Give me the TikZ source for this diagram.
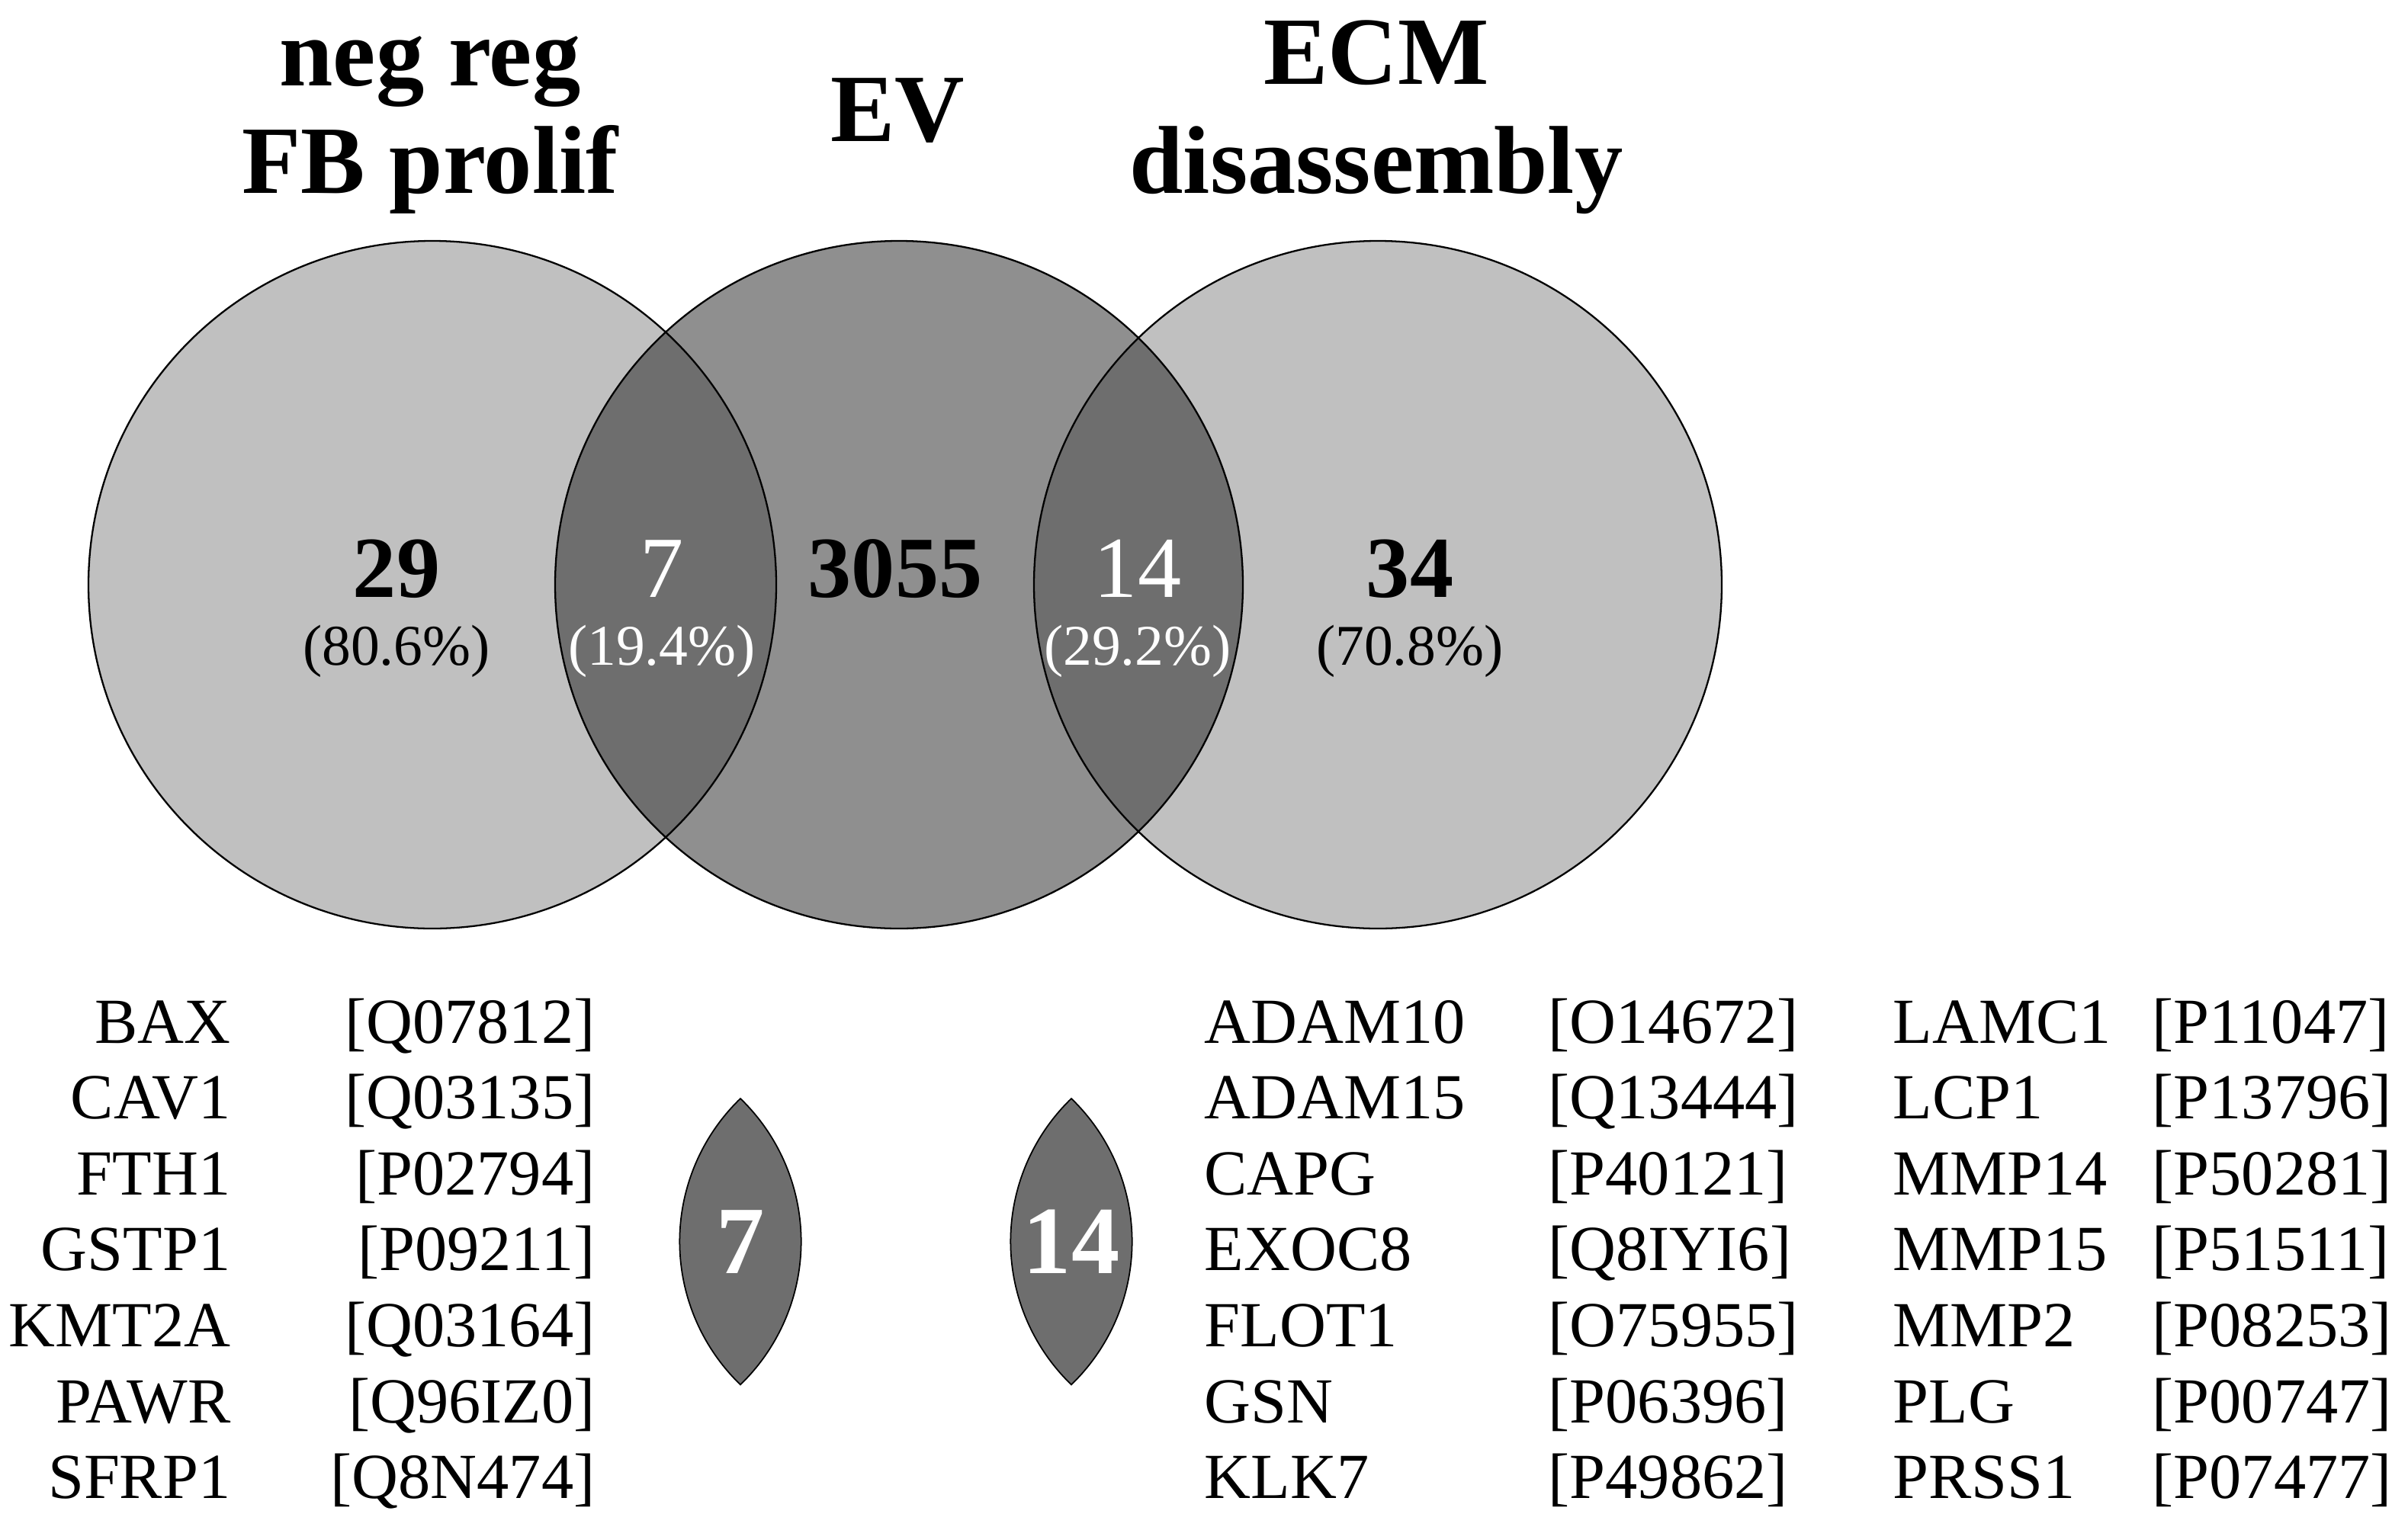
\documentclass[tikz,border=0pt]{standalone}
\usepackage{fontspec}
\setmainfont{Liberation Serif}
\definecolor{setgray}{gray}{0.753}
\definecolor{evgray}{gray}{0.561}
\definecolor{lapgray}{gray}{0.431}
\tikzset{
  settitle/.style={font=\fontsize{36}{40}\selectfont\bfseries, anchor=base, inner sep=0pt},
  setcount/.style={font=\fontsize{32.5}{36}\selectfont, anchor=base, inner sep=0pt},
  setpct/.style={font=\fontsize{21.5}{24}\selectfont, anchor=base, inner sep=0pt},
  genetxt/.style={font=\fontsize{24}{28}\selectfont, inner sep=0pt},
  lensnum/.style={font=\fontsize{36}{40}\selectfont\bfseries, text=white, inner sep=0pt},
  ring/.style={draw=black, line width=0.65pt},
  lens/.style={fill=lapgray, draw=black, line width=0.5pt}
}
\begin{document}
\begin{tikzpicture}
\useasboundingbox (0,0) rectangle (31.58,-20.06);

\coordinate (cFB) at (5.67,-7.67);
\coordinate (cEV) at (11.79,-7.67);
\coordinate (cECM) at (18.07,-7.67);

% circles
\fill[setgray] (cFB) circle (4.51);
\fill[setgray] (cECM) circle (4.51);
\fill[evgray] (cEV) circle (4.51);
\begin{scope}
\clip (cFB) circle (4.51);
\fill[lapgray] (cEV) circle (4.51);
\end{scope}
\begin{scope}
\clip (cECM) circle (4.51);
\fill[lapgray] (cEV) circle (4.51);
\end{scope}
\draw[ring] (cFB) circle (4.51);
\draw[ring] (cEV) circle (4.51);
\draw[ring] (cECM) circle (4.51);

% titles
\node[settitle] (tFBa) at (5.64,-1.12) {neg reg};
\node[settitle] (tFBb) at (5.64,-2.53) {FB prolif};
\node[settitle] (tEV) at (11.77,-1.85) {EV};
\node[settitle] (tECMa) at (18.05,-1.10) {ECM};
\node[settitle] (tECMb) at (18.05,-2.53) {disassembly};

% counts
\node[setcount] (nFB) at (5.20,-7.83) {\textbf{29}};
\node[setcount, text=white] (nFBEV) at (8.68,-7.83) {7};
\node[setcount] (nEV) at (11.74,-7.83) {\textbf{3055}};
\node[setcount, text=white] (nEVECM) at (14.92,-7.83) {14};
\node[setcount] (nECM) at (18.49,-7.83) {\textbf{34}};

\node[setpct] (pFB) at (5.20,-8.72) {(80.6\%)};
\node[setpct, text=white] (pFBEV) at (8.68,-8.72) {(19.4\%)};
\node[setpct, text=white] (pEVECM) at (14.92,-8.72) {(29.2\%)};
\node[setpct] (pECM) at (18.49,-8.72) {(70.8\%)};

% lenses
\filldraw[lens] (9.71,-14.41) arc[start angle=46, end angle=-46, radius=2.609]
  arc[start angle=226, end angle=134, radius=2.609] -- cycle;
\filldraw[lens] (14.05,-14.41) arc[start angle=46, end angle=-46, radius=2.609]
  arc[start angle=226, end angle=134, radius=2.609] -- cycle;
\node[lensnum] (l7) at (9.71,-16.29) {7};
\node[lensnum] (l14) at (14.05,-16.29) {14};

% lists
\foreach \g/\acc [count=\i] in {BAX/Q07812, CAV1/Q03135, FTH1/P02794, GSTP1/P09211,
  KMT2A/Q03164, PAWR/Q96IZ0, SFRP1/Q8N474}
{
\node[genetxt, anchor=base east] (gFB\i) at (3.03,{-13.68-0.996*(\i-1)}) {\g};
\node[genetxt, anchor=base east] (aFB\i) at (7.81,{-13.68-0.996*(\i-1)}) {[\acc]};
}
\foreach \g/\acc [count=\i] in {ADAM10/O14672, ADAM15/Q13444, CAPG/P40121, EXOC8/Q8IYI6,
  FLOT1/O75955, GSN/P06396, KLK7/P49862}
{
\node[genetxt, anchor=base west] (gECM\i) at (15.79,{-13.68-0.996*(\i-1)}) {\g};
\node[genetxt, anchor=base west] (aECM\i) at (20.30,{-13.68-0.996*(\i-1)}) {[\acc]};
}
\foreach \g/\acc [count=\i] in {LAMC1/P11047, LCP1/P13796, MMP14/P50281, MMP15/P51511,
  MMP2/P08253, PLG/P00747, PRSS1/P07477}
{
\node[genetxt, anchor=base west] (gECMb\i) at (24.82,{-13.68-0.996*(\i-1)}) {\g};
\node[genetxt, anchor=base west] (aECMb\i) at (28.22,{-13.68-0.996*(\i-1)}) {[\acc]};
}
\end{tikzpicture}
\end{document}
